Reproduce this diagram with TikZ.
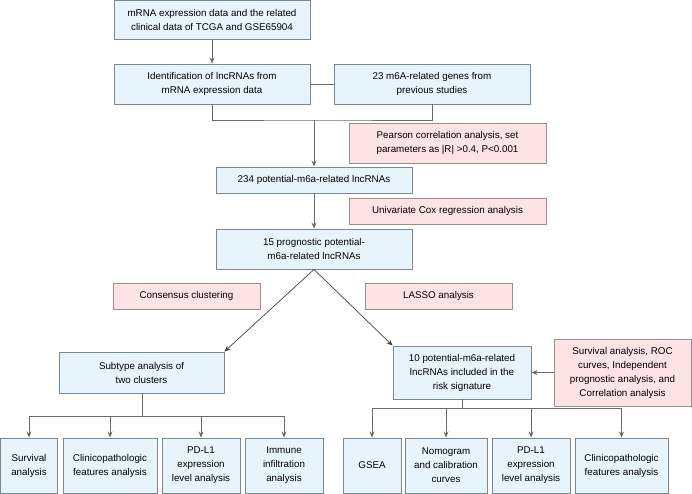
\documentclass[tikz,border=0pt]{standalone}
\usepackage{fontspec}
\setmainfont{Liberation Sans}
\usetikzlibrary{arrows.meta}
\definecolor{bfill}{HTML}{E8F4FC}
\definecolor{bdraw}{HTML}{7A8894}
\definecolor{pfill}{HTML}{FDE3E4}
\definecolor{pdraw}{HTML}{9C8E90}
\definecolor{lcol}{HTML}{6A6A6A}
\begin{document}
\begin{tikzpicture}[x=1bp,y=-1bp,
  every node/.style={font=\fontsize{9.8bp}{14bp}\selectfont, inner sep=0pt, align=center, line width=0.9bp},
  bbox/.style={draw=bdraw, fill=bfill},
  pbox/.style={draw=pdraw, fill=pfill},
  sz/.style 2 args={minimum width=#1 bp, minimum height=#2 bp},
  conn/.style={draw=lcol, line width=0.9bp},
  arr/.style={conn, -{Stealth[length=6bp,width=5bp]}},
  darr/.style={draw=black!75, line width=0.7bp, -{Stealth[length=6bp,width=5bp]}}]
\useasboundingbox (0,0) rectangle (692,494);
% top chain
\node[bbox, sz={196}{39}] (b1) at (212,20) {mRNA expression data and the related\\clinical data of TCGA and GSE65904};
\node[bbox, sz={196}{40}] (b2) at (212,84) {Identification of lncRNAs from\\mRNA expression data};
\node[bbox, sz={196}{40}] (b3) at (432,84) {23 m6A-related genes from\\previous studies};
\node[pbox, sz={197}{40}] (p1) at (447.5,143) {Pearson correlation analysis, set\\parameters as |R| >0.4, P<0.001};
\node[bbox, sz={196}{26}] (b4) at (314,180) {234 potential-m6a-related lncRNAs};
\node[pbox, sz={197}{26}] (p2) at (447.5,211) {Univariate Cox regression analysis};
\node[bbox, sz={196}{40}] (b5) at (314,249) {15 prognostic potential-\\m6a-related lncRNAs};
\node[pbox, sz={147}{26}] (p3) at (186.5,296) {Consensus clustering};
\node[pbox, sz={147}{26}] (p4) at (438.5,296) {LASSO analysis};
\node[bbox, sz={165}{41}] (b6) at (141.5,372.5) {Subtype analysis of\\two clusters};
\node[bbox, sz={138}{53}] (b7) at (462,372.5) {10 potential-m6a-related\\lncRNAs included in the\\risk signature};
\node[pbox, sz={137}{67}] (p5) at (622.5,372.5) {Survival analysis, ROC\\curves, Independent\\prognostic analysis, and\\Correlation analysis};
% bottom left
\node[bbox, sz={57}{55}] (c1) at (29,465.5) {Survival\\analysis};
\node[bbox, sz={94}{55}] (c2) at (110,465.5) {Clinicopathologic\\features analysis};
\node[bbox, sz={78}{55}] (c3) at (201,465.5) {PD-L1\\expression\\level analysis};
\node[bbox, sz={78}{55}] (c4) at (284,465.5) {Immune\\infiltration\\analysis};
% bottom right
\node[bbox, sz={58}{55}] (d1) at (372,465.5) {GSEA};
\node[bbox, sz={82}{55}] (d2) at (446,465.5) {Nomogram\\and calibration\\curves};
\node[bbox, sz={78}{55}] (d3) at (531,465.5) {PD-L1\\expression\\level analysis};
\node[bbox, sz={93}{55}] (d4) at (621.5,465.5) {Clinicopathologic\\features analysis};
% connectors
\draw[arr] (b1) -- (b2);
\draw[conn] (b2) -- (b3);
\coordinate (m) at (314,120);
\draw[conn] (b2.south) |- (m) -| (b3.south);
\draw[arr] (m) -- (b4.north);
\draw[arr] (b4) -- (b5);
\draw[darr] (b5.south) -- (b6.north east);
\draw[darr] (b5.south) -- (b7.north west);
\draw[arr] (p5) -- (b7);
% left tree
\coordinate (l0) at (142,416);
\draw[conn] (b6.south -| l0) -- (l0);
\draw[conn] (c1.north |- l0) -- (c4.north |- l0);
\foreach \n in {c1,c2,c3,c4} \draw[arr] (\n.north |- l0) -- (\n.north);
% right tree
\coordinate (r0) at (462,408);
\draw[conn] (b7.south) -- (r0);
\draw[conn] (d1.north |- r0) -- (d4.north |- r0);
\foreach \n in {d1,d2,d3,d4} \draw[arr] (\n.north |- r0) -- (\n.north);
\end{tikzpicture}
\end{document}
